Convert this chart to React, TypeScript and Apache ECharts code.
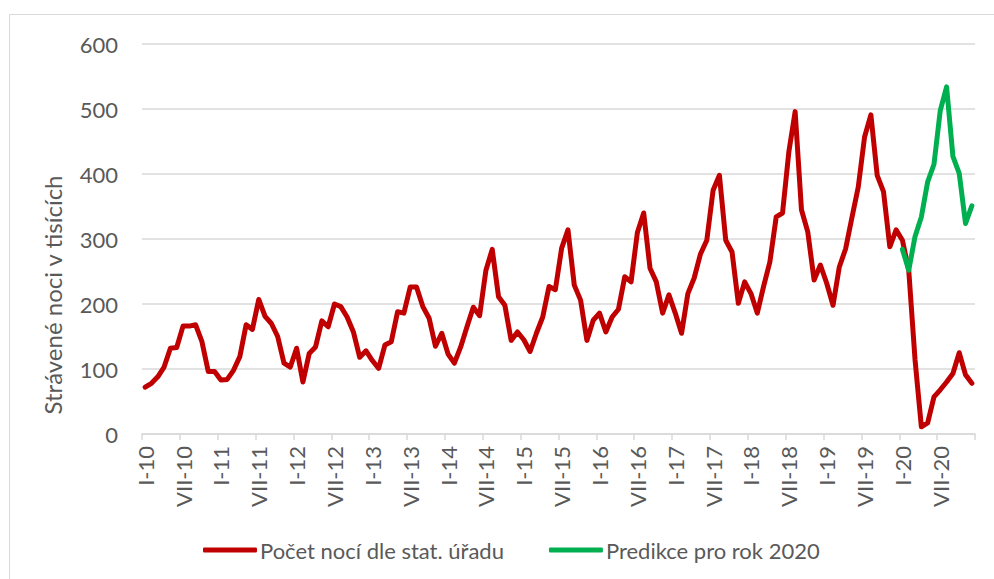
import React, { useEffect, useRef } from "react";
import * as echarts from "echarts";

const monthNames = ["I", "II", "III", "IV", "V", "VI", "VII", "VIII", "IX", "X", "XI", "XII"];
const years = ["10", "11", "12", "13", "14", "15", "16", "17", "18", "19", "20"];
const categories: string[] = [];
years.forEach((y) => monthNames.forEach((m) => categories.push(`${m}-${y}`)));

// Počet nocí dle stat. úřadu (thousands), Jan 2010 - Dec 2020
const officialNights = [
  72, 78, 88, 103, 132, 133, 166, 166, 168, 142, 96, 96,
  83, 84, 98, 119, 168, 161, 207, 181, 170, 150, 109, 103,
  132, 80, 124, 134, 174, 165, 200, 196, 180, 157, 118, 128,
  113, 101, 137, 142, 188, 186, 226, 226, 196, 178, 135, 155,
  123, 109, 134, 165, 195, 182, 252, 284, 211, 198, 144, 157,
  145, 127, 155, 180, 227, 222, 286, 314, 229, 206, 144, 175,
  186, 157, 180, 192, 242, 234, 310, 340, 255, 234, 186, 214,
  186, 155, 216, 240, 277, 298, 375, 398, 298, 280, 201, 234,
  216, 186, 227, 265, 334, 340, 434, 496, 345, 311, 237, 260,
  232, 198, 257, 285, 333, 380, 457, 491, 398, 373, 288, 314,
  298, 252, 114, 11, 17, 57, 68, 80, 93, 125, 91, 78,
];

// Predikce pro rok 2020 (Jan - Dec 2020)
const prediction2020 = [284, 252, 304, 334, 388, 415, 498, 534, 427, 401, 324, 351];

const yTicks = { min: 0, max: 600, interval: 100 };

const seriesNames = ["Počet nocí dle stat. úřadu", "Predikce pro rok 2020"];
const yTitle = "Strávené noci v tisících";

export default function App() {
  const ref = useRef<HTMLDivElement>(null);
  useEffect(() => {
    if (!ref.current) return;
    const chart = echarts.init(ref.current, null, { renderer: "svg" });
    const predData: (number | null)[] = categories.map(() => null);
    const offset = categories.length - prediction2020.length;
    prediction2020.forEach((v, i) => (predData[offset + i] = v));
    const font = "Lato, 'Open Sans', sans-serif";
    chart.setOption({
      animation: false,
      textStyle: { fontFamily: font },
      graphic: [
        {
          type: "rect",
          shape: { x: 9.5, y: 14.5, width: 1000, height: 600 },
          style: { fill: "none", stroke: "#d9d9d9", lineWidth: 1 },
          silent: true,
        },
        {
          type: "text",
          x: 52,
          y: 295,
          rotation: Math.PI / 2,
          style: {
            text: yTitle,
            fill: "#595959",
            font: `24px ${font}`,
            textAlign: "center",
            textVerticalAlign: "middle",
          },
        },
      ],
      grid: { left: 142, right: 19, top: 44, bottom: 145, containLabel: false },
      legend: {
        left: 198,
        top: 534,
        itemWidth: 54,
        itemHeight: 5,
        itemGap: 45,
        icon: "roundRect",
        textStyle: { color: "#595959", fontSize: 22, fontFamily: font, padding: [0, 0, 0, -2] },
        data: seriesNames,
      },
      xAxis: {
        type: "category",
        data: categories,
        boundaryGap: true,
        axisLine: { lineStyle: { color: "#d9d9d9", width: 1.5 } },
        axisTick: { show: true, interval: 5, length: 6, lineStyle: { color: "#d9d9d9", width: 1.5 } },
        axisLabel: { interval: 5, rotate: 90, color: "#595959", fontSize: 22, fontFamily: font, margin: 12 },
        splitLine: { show: false },
      },
      yAxis: {
        type: "value",
        min: yTicks.min,
        max: yTicks.max,
        interval: yTicks.interval,
        axisLine: { show: false },
        axisTick: { show: false },
        axisLabel: { color: "#595959", fontSize: 22, fontFamily: font, margin: 24 },
        splitLine: { lineStyle: { color: "#d9d9d9", width: 1.5 } },
      },
      series: [
        {
          name: seriesNames[0],
          type: "line",
          data: officialNights,
          showSymbol: false,
          symbol: "none",
          color: "#C00000",
          lineStyle: { color: "#C00000", width: 5, cap: "round", join: "round" },
        },
        {
          name: seriesNames[1],
          type: "line",
          data: predData,
          showSymbol: false,
          symbol: "none",
          color: "#00B050",
          lineStyle: { color: "#00B050", width: 5, cap: "round", join: "round" },
        },
      ],
    });
    return () => chart.dispose();
  }, []);
  return (
    <div
      ref={ref}
      style={{ position: "fixed", left: 0, top: 0, width: 994, height: 579, background: "#fff" }}
    />
  );
}
